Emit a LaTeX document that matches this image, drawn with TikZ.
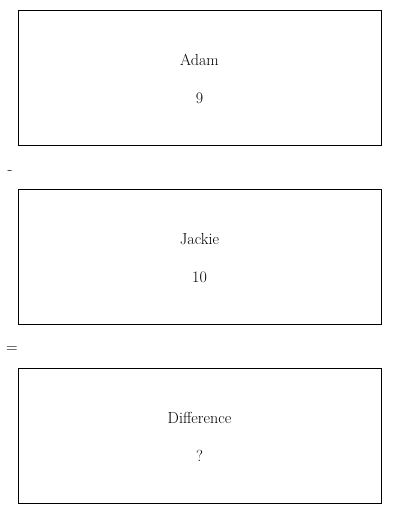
\documentclass[tikz,border=0pt]{standalone}
\usetikzlibrary{positioning}
\begin{document}
\begin{tikzpicture}[x=1pt,y=-1pt,
        box/.style = {rectangle, draw, thin,
            minimum width = 363pt,
            minimum height = 135pt
            },
        txt/.style = {font=\fontsize{16}{19}\selectfont, inner sep=0pt}]
    \useasboundingbox (0,0) rectangle (400,514);

    % Adam
    \node[box] (A) at (199.5,77.5) {};
    \node[txt] (Aname) at (199.5,60) {Adam};
    \node[txt] (Aval) at (199.5,98) {9};

    % minus
    \node[txt] (minus) at (10,173) {-};

    % Jackie
    \node[box] (J) at (199.5,256.5) {};
    \node[txt] (Jname) at (199.5,239) {Jackie};
    \node[txt] (Jval) at (199.5,277) {10};

    % equals
    \node[txt] (eq) at (12,350) {=};

    % Difference
    \node[box] (D) at (199.5,435.5) {};
    \node[txt] (Dname) at (199.5,418) {Difference};
    \node[txt] (Dval) at (199.5,456) {?};

\end{tikzpicture}
\end{document}
